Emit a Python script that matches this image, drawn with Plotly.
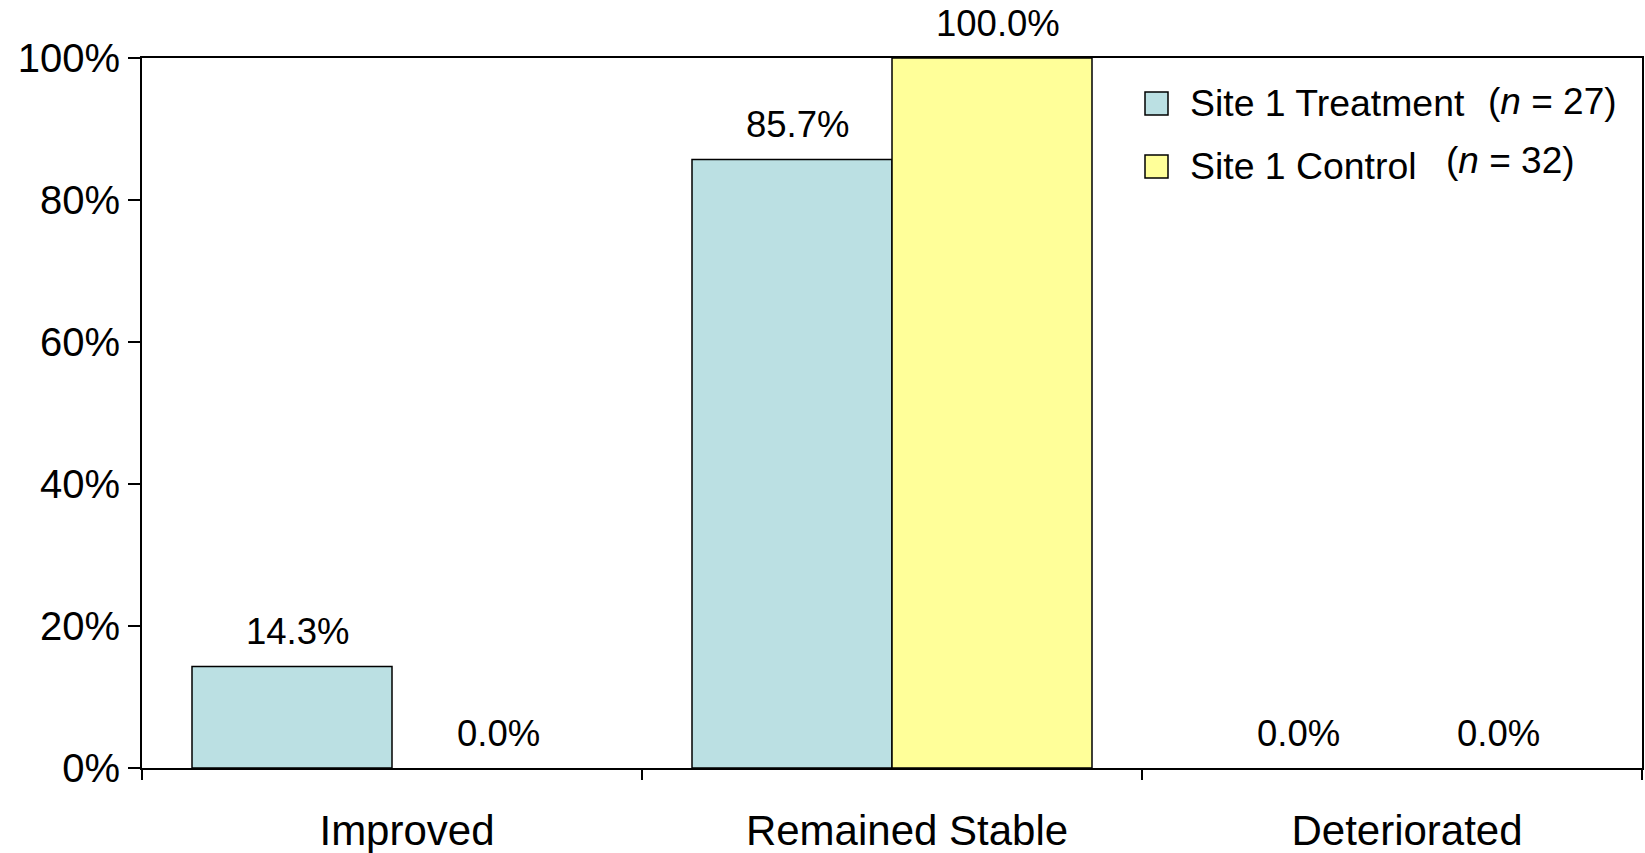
import plotly.graph_objects as go

# Outcome categories and percentages per group
categories = ["Improved", "Remained Stable", "Deteriorated"]
treatment_pct = [14.3, 85.7, 0.0]
control_pct = [0.0, 100.0, 0.0]
group_names = ["Site 1 Treatment", "Site 1 Control"]
group_n = [27, 32]
y_ticks = [0, 20, 40, 60, 80, 100]
y_tick_labels = [f"{v}%" for v in y_ticks]

TREAT_COLOR = "#BBE0E3"
CTRL_COLOR = "#FFFF99"
FONT = "Liberation Sans, Arial, sans-serif"

W, H = 1645, 853
L, R, T, B = 142, 3, 58, 85
PW, PH = W - L - R, H - T - B


def px_to_paper(px, py):
    return (px - L) / PW, (H - B - py) / PH


fig = go.Figure()
for name, vals, color in [(group_names[0], treatment_pct, TREAT_COLOR),
                          (group_names[1], control_pct, CTRL_COLOR)]:
    fig.add_trace(go.Bar(
        x=categories, y=vals, name=name,
        marker=dict(color=color,
                    line=dict(color="black",
                              width=[1.5 if v > 0 else 0 for v in vals])),
        showlegend=False,
    ))

# value labels above each bar
annotations = []
for offset, vals in [(-0.2, treatment_pct), (0.2, control_pct)]:
    for i, v in enumerate(vals):
        annotations.append(dict(
            x=i + offset, y=v, xref="x", yref="y",
            text=f"{v:.1f}%", showarrow=False,
            yanchor="middle", yshift=35, xshift=6,
            font=dict(family=FONT, size=36.5, color="black"),
        ))

# legend drawn as swatches with text
shapes = []
legend_rows = [
    (group_names[0], group_n[0], TREAT_COLOR, 103, 1486, 101),
    (group_names[1], group_n[1], CTRL_COLOR, 166, 1444, 160),
]
for name, n, color, cy, nx, ny in legend_rows:
    x0, y0 = px_to_paper(1145, cy + 12)
    x1, y1 = px_to_paper(1168, cy - 11)
    shapes.append(dict(type="rect", xref="paper", yref="paper",
                       x0=x0, y0=y0, x1=x1, y1=y1,
                       fillcolor=color, line=dict(color="black", width=1.5)))
    tx, ty = px_to_paper(1188, cy)
    annotations.append(dict(x=tx, y=ty, xref="paper", yref="paper",
                            text=name, showarrow=False,
                            xanchor="left", yanchor="middle",
                            font=dict(family=FONT, size=37.4, color="black")))
    nxp, nyp = px_to_paper(nx, ny)
    annotations.append(dict(x=nxp, y=nyp, xref="paper", yref="paper",
                            text=f"(<i>n</i> = {n})", showarrow=False,
                            xanchor="left", yanchor="middle",
                            font=dict(family=FONT, size=37, color="black")))

fig.update_layout(
    width=W, height=H,
    margin=dict(l=L, r=R, t=T, b=B),
    paper_bgcolor="white", plot_bgcolor="white",
    barmode="group", bargap=0.2, bargroupgap=0,
    font=dict(family=FONT, color="black"),
    annotations=annotations, shapes=shapes,
)
fig.update_xaxes(
    type="category", showline=True, linecolor="black", linewidth=2,
    mirror=True, ticks="outside", tickson="boundaries", ticklen=10,
    tickwidth=2, tickcolor="black", showgrid=False,
    tickfont=dict(family=FONT, size=42, color="black"),
    ticklabelstandoff=25, ticklabelshift=15, automargin=False,
)
fig.update_yaxes(
    range=[0, 100], tickvals=y_ticks, ticktext=y_tick_labels,
    showline=True, linecolor="black", linewidth=2, mirror=True,
    ticks="outside", ticklen=12, tickwidth=2, tickcolor="black",
    showgrid=False, zeroline=False, automargin=False,
    tickfont=dict(family=FONT, size=40, color="black"),
)

fig.write_html("out.html")
